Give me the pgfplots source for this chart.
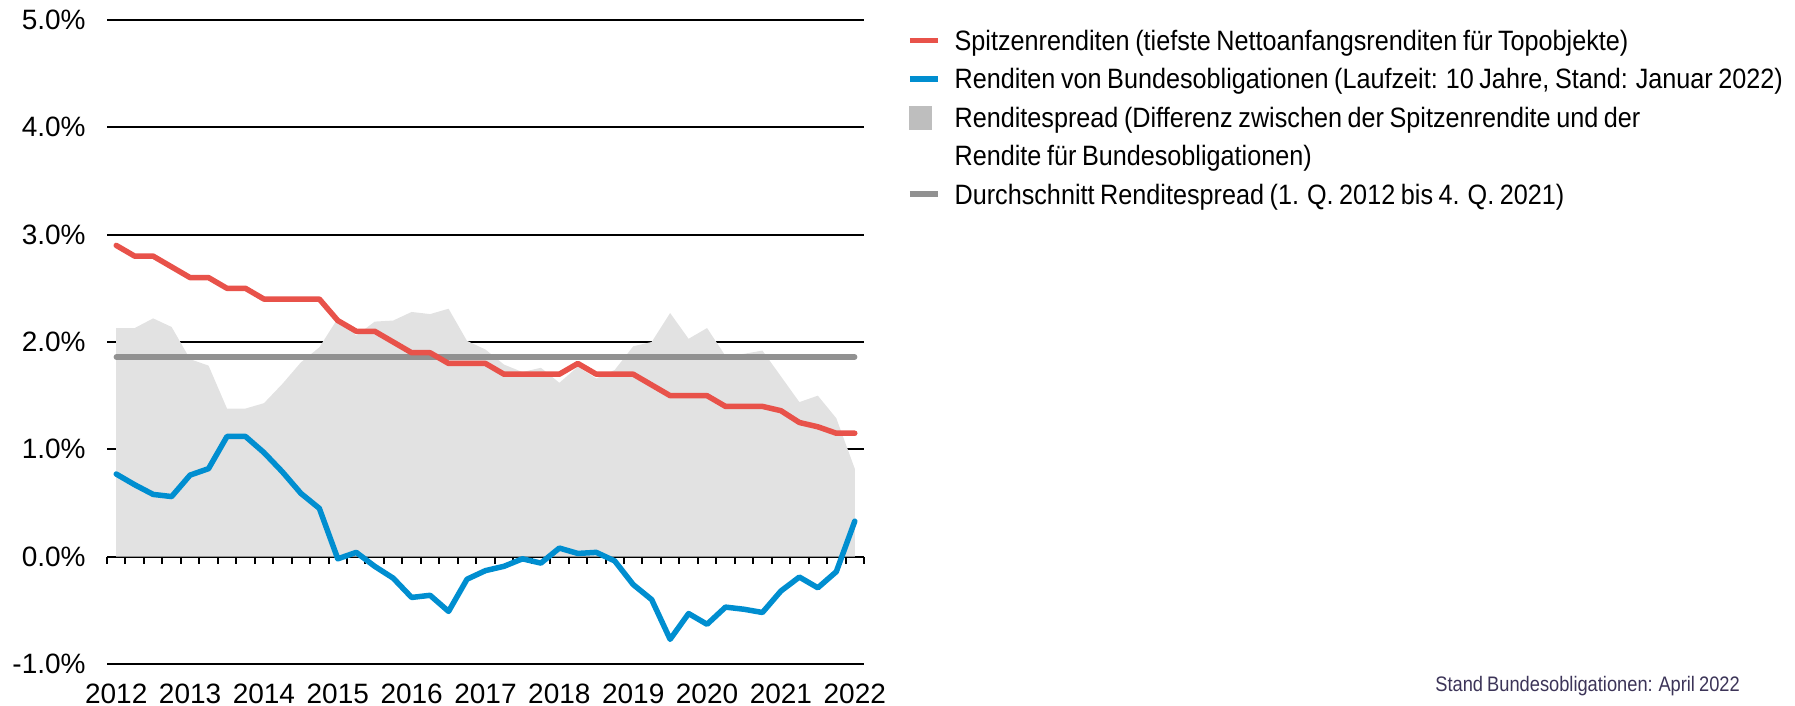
\documentclass[border=0pt]{standalone}
\usepackage{fontspec}
\setmainfont{Liberation Sans}
\newfontfamily\condfont{Liberation Sans}[FakeStretch=0.90, WordSpace=0.8]
\newfontfamily\notefont{Liberation Sans}[FakeStretch=0.87, WordSpace=0.8]
\usepackage{pgfplots}
\pgfplotsset{compat=1.18}
\usepackage{pgfplotstable}

\definecolor{spitze}{RGB}{232,82,74}
\definecolor{bund}{RGB}{0,142,208}
\definecolor{spreadfill}{RGB}{226,226,226}
\definecolor{spreadleg}{RGB}{190,190,190}
\definecolor{avgline}{RGB}{145,145,145}
\definecolor{notecol}{RGB}{60,52,88}

% quarter index 0 = Q1 2012 ... 40 = Q1 2022
\pgfplotstableread{
q  red  blue  spread
0  2.90  0.77 2.13
1  2.80  0.67 2.13
2  2.80  0.58 2.22
3  2.70  0.56 2.14
4  2.60  0.76 1.84
5  2.60  0.82 1.78
6  2.50  1.12 1.38
7  2.50  1.12 1.38
8  2.40  0.97 1.43
9  2.40  0.79 1.61
10 2.40  0.59 1.81
11 2.40  0.45 1.95
12 2.20 -0.02 2.22
13 2.10  0.04 2.06
14 2.10 -0.09 2.19
15 2.00 -0.20 2.20
16 1.90 -0.38 2.28
17 1.90 -0.36 2.26
18 1.80 -0.51 2.31
19 1.80 -0.21 2.01
20 1.80 -0.13 1.93
21 1.70 -0.09 1.79
22 1.70 -0.02 1.72
23 1.70 -0.06 1.76
24 1.70  0.08 1.62
25 1.80  0.03 1.77
26 1.70  0.04 1.66
27 1.70 -0.04 1.74
28 1.70 -0.26 1.96
29 1.60 -0.40 2.00
30 1.50 -0.77 2.27
31 1.50 -0.53 2.03
32 1.50 -0.63 2.13
33 1.40 -0.47 1.87
34 1.40 -0.49 1.89
35 1.40 -0.52 1.92
36 1.36 -0.32 1.68
37 1.25 -0.19 1.44
38 1.21 -0.29 1.50
39 1.15 -0.14 1.29
40 1.15  0.33 0.82
}\yields

\begin{document}
\begin{tikzpicture}
\path (0,0) rectangle (897.5pt,353pt);
\begin{axis}[
    at={(53.5pt,21pt)}, anchor=south west,
    scale only axis, width=378.5pt, height=322pt,
    xmin=-0.5, xmax=40.5, ymin=-1, ymax=5,
    axis x line*=middle, axis y line*=left,
    x axis line style={-, black, line width=1pt},
    y axis line style={draw=none},
    xtick={0,4,...,40},
    xticklabels={2012,2013,2014,2015,2016,2017,2018,2019,2020,2021,2022},
    major x tick style={draw=none},
    minor xtick={-0.5,0.5,...,40.5},
    minor x tick style={black, line width=1pt},
    xtick align=outside, minor tick length=3.5pt,
    ytick={-1,0,...,5},
    yticklabels={-1.0\%,0.0\%,1.0\%,2.0\%,3.0\%,4.0\%,5.0\%},
    y tick style={draw=none},
    ymajorgrids, major grid style={black, line width=1pt},
    /pgf/number format/assume math mode=true,
    tick label style={font=\fontsize{14}{16}\selectfont},
    yticklabel style={anchor=east, inner sep=0pt, xshift=-10.5pt},
    xticklabel style={anchor=north, inner sep=0pt, yshift=-59.2pt},
    legend style={at={(1.0564,0.986)}, anchor=north west, draw=none, fill=none,
        inner sep=0pt, row sep=5.2pt, column sep=7pt,
        font=\fontsize{14}{17}\selectfont\condfont,
        nodes={inner sep=0pt, text height=10.5pt, text depth=3.5pt},
        cells={anchor=base west}},
]
\addplot[fill=spreadfill, draw=none, forget plot] table[x=q, y=spread] {\yields} \closedcycle;
\addplot[avgline, line width=2.6pt, line cap=round, forget plot] coordinates {(0,1.86) (40,1.86)};
\addplot[spitze, line width=2.75pt, line cap=round, line join=round, forget plot] table[x=q, y=red] {\yields};
\addplot[bund, line width=2.75pt, line cap=round, line join=round, forget plot] table[x=q, y=blue] {\yields};

\addlegendimage{legend image code/.code={\draw[spitze, line width=2.75pt] (0pt,5pt) -- (14pt,5pt);}}
\addlegendentry{Spitzenrenditen (tiefste Nettoanfangsrenditen für Topobjekte)}
\addlegendimage{legend image code/.code={\draw[bund, line width=2.75pt] (0pt,5pt) -- (14pt,5pt);}}
\addlegendentry{Renditen von Bundesobligationen (Laufzeit: 10 Jahre, Stand: Januar 2022)}
\addlegendimage{legend image code/.code={\fill[spreadleg] (0pt,-0.75pt) rectangle (11pt,10.4pt);}}
\addlegendentry{Renditespread (Differenz zwischen der Spitzenrendite und der}
\addlegendimage{empty legend}
\addlegendentry{Rendite für Bundesobligationen)}
\addlegendimage{legend image code/.code={\draw[avgline, line width=2.75pt] (0pt,5pt) -- (14pt,5pt);}}
\addlegendentry{Durchschnitt Renditespread (1. Q. 2012 bis 4. Q. 2021)}
\end{axis}
\node[anchor=base west, inner sep=0pt, text=notecol, font=\fontsize{10.5}{12}\selectfont\notefont]
    at (717.5pt,7pt) {Stand Bundesobligationen: April 2022};
\end{tikzpicture}
\end{document}
